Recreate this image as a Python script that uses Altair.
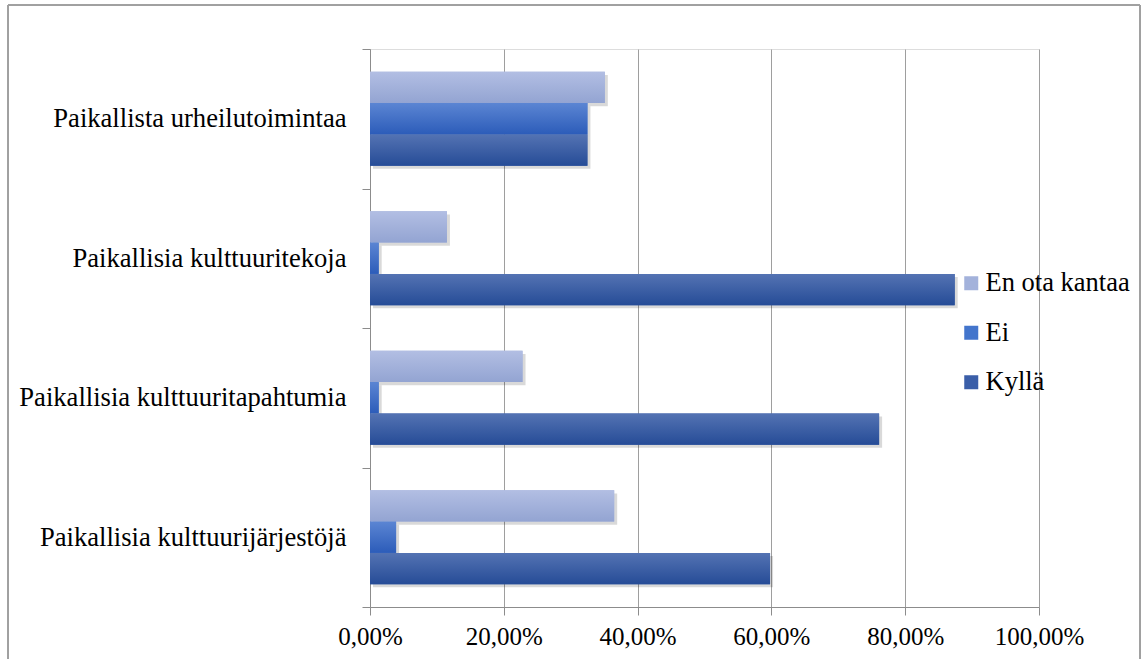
import altair as alt
import pandas as pd

# Survey answers per topic (share of respondents, %)
categories = [
    "Paikallista urheilutoimintaa",
    "Paikallisia kulttuuritekoja",
    "Paikallisia kulttuuritapahtumia",
    "Paikallisia kulttuurijärjestöjä",
]
series = ["En ota kantaa", "Ei", "Kyllä"]
en_ota_kantaa = [35.1, 11.5, 22.8, 36.5]
ei = [32.5, 1.3, 1.3, 3.9]
kylla = [32.5, 87.4, 76.1, 59.8]
x_ticks = [0, 20, 40, 60, 80, 100]

rows = []
for i, cat in enumerate(categories):
    for name, vals in zip(series, [en_ota_kantaa, ei, kylla]):
        rows.append({"aihe": cat, "vastaus": name, "osuus": vals[i]})
df = pd.DataFrame(rows)

solid = ["#a3b2db", "#4375cc", "#3a5ea8"]
gradients = {
    "En ota kantaa": ("#b2bee3", "#93a4d2"),
    "Ei": ("#5b85d3", "#2c5cb9"),
    "Kyllä": ("#5473b3", "#264c97"),
}

FONT = "'Liberation Serif', Tinos, serif"
W, H = 669, 558

x_enc = alt.X(
    "osuus:Q",
    scale=alt.Scale(domain=[0, 100], nice=False),
    axis=alt.Axis(
        values=x_ticks,
        title=None,
        labelExpr="replace(format(datum.value, '.2f'), '.', ',') + '%'",
        labelFont=FONT,
        labelFontSize=25,
        labelColor="black",
        labelFlush=False,
        labelPadding=9,
        tickSize=8,
        tickColor="#8c8c8c",
        domainColor="#8c8c8c",
        grid=True,
        gridColor="#9e9e9e",
        gridWidth=1,
    ),
)
y_enc = alt.Y(
    "aihe:N",
    sort=categories,
    scale=alt.Scale(paddingInner=0, paddingOuter=0),
    axis=alt.Axis(
        title=None,
        tickBand="extent",
        labelFont=FONT,
        labelFontSize=26.6,
        labelColor="black",
        labelLimit=400,
        labelPadding=16,
        tickSize=8,
        tickColor="#8c8c8c",
        domainColor="#8c8c8c",
        grid=False,
    ),
)
yoff_enc = alt.YOffset(
    "vastaus:N",
    sort=series,
    scale=alt.Scale(domain=series, paddingInner=0, paddingOuter=0.73),
)
# same bands, nudged a few pixels down for the drop shadow
yoff_shadow = alt.YOffset(
    "vastaus:N",
    sort=series,
    scale=alt.Scale(domain=series, paddingInner=0, paddingOuter=0.73, align=0.57),
)

base = alt.Chart(df)

# Frame around the whole figure
frame = base.mark_rect(fill=None, stroke="#a0a0a0", strokeWidth=1).encode(
    x=alt.value(-362), x2=alt.value(770), y=alt.value(-44), y2=alt.value(640)
)

shadow = base.mark_bar(color="#000000", opacity=0.15, xOffset=3).encode(
    x=x_enc, y=y_enc, yOffset=yoff_shadow
)

bars = base.mark_bar().encode(
    x=x_enc,
    y=y_enc,
    yOffset=yoff_enc,
    color=alt.Color(
        "vastaus:N",
        scale=alt.Scale(domain=series, range=solid),
        legend=alt.Legend(
            title=None,
            orient="none",
            legendX=588,
            legendY=221,
            symbolType="square",
            symbolSize=196,
            symbolStrokeWidth=0,
            labelFont=FONT,
            labelFontSize=26.5,
            labelColor="black",
            labelOffset=1,
            rowPadding=22.5,
            padding=0,
        ),
    ),
)

layers = [bars]
for name in series:
    top, bottom = gradients[name]
    grad = alt.LinearGradient(
        gradient="linear",
        x1=0, x2=0, y1=0, y2=1,
        stops=[alt.GradientStop(color=top, offset=0), alt.GradientStop(color=bottom, offset=1)],
    )
    layers.append(
        base.transform_filter(alt.datum.vastaus == name)
        .mark_bar(color=grad)
        .encode(x=x_enc, y=y_enc, yOffset=yoff_enc)
    )

chart = (
    alt.layer(frame, shadow, alt.layer(*layers))
    .resolve_scale(yOffset="independent")
    .properties(
        width=W,
        height=H,
        autosize=alt.AutoSizeParams(type="none"),
        padding={"left": 370, "top": 49, "right": 106, "bottom": 52},
    )
    .configure_view(stroke=None)
    .configure(background="white")
)

chart.save("out.html", embed_options={"renderer": "svg", "actions": False})
